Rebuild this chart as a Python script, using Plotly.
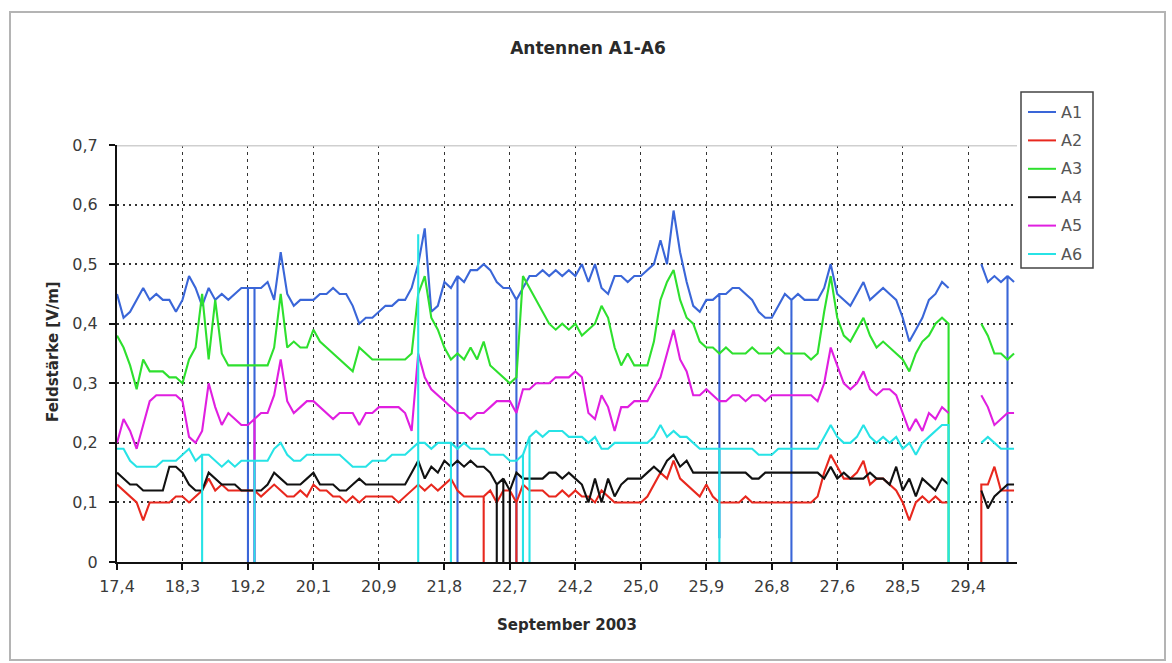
import plotly.graph_objects as go

# ---- data: field strength per antenna, one sample per 1/10 label step ----
tick_labels = ["17,4", "18,3", "19,2", "20,1", "20,9", "21,8", "22,7",
               "24,2", "25,0", "25,9", "26,8", "27,6", "28,5", "29,4"]
samples_per_label = 10

series_names = ["A1", "A2", "A3", "A4", "A5", "A6"]

A1 = [0.45, 0.41, 0.42, 0.44, 0.46, 0.44, 0.45, 0.44, 0.44, 0.42,
      0.44, 0.48, 0.46, 0.43, 0.46, 0.44, 0.45, 0.44, 0.45, 0.46,
      0.46, 0.46, 0.46, 0.47, 0.44, 0.52, 0.45, 0.43, 0.44, 0.44,
      0.44, 0.45, 0.45, 0.46, 0.45, 0.45, 0.43, 0.40, 0.41, 0.41,
      0.42, 0.43, 0.43, 0.44, 0.44, 0.46, 0.50, 0.56, 0.42, 0.43,
      0.47, 0.46, 0.48, 0.47, 0.49, 0.49, 0.50, 0.49, 0.47, 0.46,
      0.46, 0.44, 0.46, 0.48, 0.48, 0.49, 0.48, 0.49, 0.48, 0.49,
      0.48, 0.50, 0.47, 0.50, 0.46, 0.45, 0.48, 0.48, 0.47, 0.48,
      0.48, 0.49, 0.50, 0.54, 0.50, 0.59, 0.52, 0.47, 0.43, 0.42,
      0.44, 0.44, 0.45, 0.45, 0.46, 0.46, 0.45, 0.44, 0.42, 0.41,
      0.41, 0.43, 0.45, 0.44, 0.45, 0.44, 0.44, 0.44, 0.46, 0.50,
      0.45, 0.44, 0.43, 0.45, 0.47, 0.44, 0.45, 0.46, 0.45, 0.44,
      0.41, 0.37, 0.39, 0.41, 0.44, 0.45, 0.47, 0.46, None, None,
      None, None, 0.50, 0.47, 0.48, 0.47, 0.48, 0.47]

A2 = [0.13, 0.12, 0.11, 0.10, 0.07, 0.10, 0.10, 0.10, 0.10, 0.11,
      0.11, 0.10, 0.11, 0.12, 0.14, 0.12, 0.13, 0.12, 0.12, 0.12,
      0.12, 0.12, 0.11, 0.12, 0.13, 0.12, 0.11, 0.11, 0.12, 0.11,
      0.13, 0.12, 0.12, 0.11, 0.11, 0.10, 0.11, 0.10, 0.11, 0.11,
      0.11, 0.11, 0.11, 0.10, 0.11, 0.12, 0.13, 0.12, 0.13, 0.12,
      0.13, 0.14, 0.12, 0.11, 0.11, 0.11, 0.11, 0.12, 0.10, 0.12,
      0.12, 0.10, 0.13, 0.12, 0.12, 0.12, 0.11, 0.11, 0.12, 0.11,
      0.12, 0.11, 0.11, 0.10, 0.12, 0.11, 0.10, 0.10, 0.10, 0.10,
      0.10, 0.11, 0.13, 0.15, 0.14, 0.17, 0.14, 0.13, 0.12, 0.11,
      0.13, 0.11, 0.10, 0.10, 0.10, 0.10, 0.11, 0.10, 0.10, 0.10,
      0.10, 0.10, 0.10, 0.10, 0.10, 0.10, 0.10, 0.11, 0.15, 0.18,
      0.16, 0.14, 0.14, 0.15, 0.17, 0.13, 0.14, 0.14, 0.13, 0.12,
      0.10, 0.07, 0.10, 0.11, 0.10, 0.11, 0.10, 0.10, None, None,
      None, None, 0.13, 0.13, 0.16, 0.12, 0.12, 0.12]

A3 = [0.38, 0.36, 0.33, 0.29, 0.34, 0.32, 0.32, 0.32, 0.31, 0.31,
      0.30, 0.34, 0.36, 0.45, 0.34, 0.44, 0.35, 0.33, 0.33, 0.33,
      0.33, 0.33, 0.33, 0.33, 0.36, 0.45, 0.36, 0.37, 0.36, 0.36,
      0.39, 0.37, 0.36, 0.35, 0.34, 0.33, 0.32, 0.36, 0.35, 0.34,
      0.34, 0.34, 0.34, 0.34, 0.34, 0.35, 0.45, 0.48, 0.41, 0.39,
      0.36, 0.34, 0.35, 0.34, 0.36, 0.34, 0.37, 0.33, 0.32, 0.31,
      0.30, 0.31, 0.48, 0.46, 0.44, 0.42, 0.40, 0.39, 0.40, 0.39,
      0.40, 0.38, 0.39, 0.40, 0.43, 0.41, 0.36, 0.33, 0.35, 0.33,
      0.33, 0.33, 0.37, 0.44, 0.47, 0.49, 0.44, 0.41, 0.40, 0.37,
      0.36, 0.36, 0.35, 0.36, 0.35, 0.35, 0.35, 0.36, 0.35, 0.35,
      0.35, 0.36, 0.35, 0.35, 0.35, 0.35, 0.34, 0.35, 0.42, 0.48,
      0.41, 0.38, 0.37, 0.39, 0.41, 0.38, 0.36, 0.37, 0.36, 0.35,
      0.34, 0.32, 0.35, 0.37, 0.38, 0.40, 0.41, 0.40, None, None,
      None, None, 0.40, 0.38, 0.35, 0.35, 0.34, 0.35]

A4 = [0.15, 0.14, 0.13, 0.13, 0.12, 0.12, 0.12, 0.12, 0.16, 0.16,
      0.15, 0.13, 0.12, 0.12, 0.15, 0.14, 0.13, 0.13, 0.13, 0.12,
      0.12, 0.12, 0.12, 0.13, 0.15, 0.14, 0.13, 0.13, 0.13, 0.14,
      0.15, 0.13, 0.13, 0.13, 0.12, 0.12, 0.13, 0.14, 0.13, 0.13,
      0.13, 0.13, 0.13, 0.13, 0.13, 0.15, 0.17, 0.14, 0.16, 0.15,
      0.17, 0.16, 0.17, 0.16, 0.17, 0.16, 0.16, 0.15, 0.13, 0.14,
      0.12, 0.15, 0.14, 0.14, 0.14, 0.14, 0.15, 0.15, 0.14, 0.15,
      0.14, 0.13, 0.10, 0.14, 0.10, 0.14, 0.11, 0.13, 0.14, 0.14,
      0.14, 0.15, 0.16, 0.15, 0.17, 0.18, 0.16, 0.17, 0.15, 0.15,
      0.15, 0.15, 0.15, 0.15, 0.15, 0.15, 0.15, 0.14, 0.14, 0.15,
      0.15, 0.15, 0.15, 0.15, 0.15, 0.15, 0.15, 0.15, 0.14, 0.16,
      0.14, 0.15, 0.14, 0.14, 0.14, 0.15, 0.14, 0.14, 0.13, 0.16,
      0.12, 0.14, 0.11, 0.14, 0.13, 0.12, 0.14, 0.13, None, None,
      None, None, 0.12, 0.09, 0.11, 0.12, 0.13, 0.13]

A5 = [0.20, 0.24, 0.22, 0.19, 0.23, 0.27, 0.28, 0.28, 0.28, 0.28,
      0.27, 0.21, 0.20, 0.22, 0.30, 0.26, 0.23, 0.25, 0.24, 0.23,
      0.23, 0.24, 0.25, 0.25, 0.28, 0.34, 0.27, 0.25, 0.26, 0.27,
      0.27, 0.26, 0.25, 0.24, 0.25, 0.25, 0.25, 0.23, 0.25, 0.25,
      0.26, 0.26, 0.26, 0.26, 0.25, 0.22, 0.35, 0.31, 0.29, 0.28,
      0.27, 0.26, 0.25, 0.25, 0.24, 0.25, 0.25, 0.26, 0.27, 0.27,
      0.27, 0.25, 0.29, 0.29, 0.30, 0.30, 0.30, 0.31, 0.31, 0.31,
      0.32, 0.31, 0.25, 0.24, 0.28, 0.26, 0.22, 0.26, 0.26, 0.27,
      0.27, 0.27, 0.29, 0.31, 0.35, 0.39, 0.34, 0.32, 0.28, 0.28,
      0.29, 0.28, 0.27, 0.27, 0.28, 0.28, 0.27, 0.28, 0.28, 0.27,
      0.28, 0.28, 0.28, 0.28, 0.28, 0.28, 0.28, 0.27, 0.30, 0.36,
      0.33, 0.30, 0.29, 0.30, 0.32, 0.29, 0.28, 0.29, 0.29, 0.28,
      0.25, 0.22, 0.24, 0.22, 0.25, 0.24, 0.26, 0.25, None, None,
      None, None, 0.28, 0.26, 0.23, 0.24, 0.25, 0.25]

A6 = [0.19, 0.19, 0.17, 0.16, 0.16, 0.16, 0.16, 0.17, 0.17, 0.17,
      0.18, 0.19, 0.17, 0.18, 0.18, 0.17, 0.16, 0.17, 0.16, 0.17,
      0.17, 0.17, 0.17, 0.17, 0.19, 0.20, 0.18, 0.17, 0.17, 0.18,
      0.18, 0.18, 0.18, 0.18, 0.18, 0.17, 0.16, 0.16, 0.16, 0.17,
      0.17, 0.17, 0.18, 0.18, 0.18, 0.19, 0.20, 0.20, 0.19, 0.20,
      0.20, 0.20, 0.19, 0.20, 0.19, 0.19, 0.19, 0.18, 0.18, 0.18,
      0.17, 0.17, 0.18, 0.21, 0.22, 0.21, 0.22, 0.22, 0.22, 0.21,
      0.21, 0.21, 0.20, 0.21, 0.19, 0.19, 0.20, 0.20, 0.20, 0.20,
      0.20, 0.20, 0.21, 0.23, 0.21, 0.22, 0.21, 0.21, 0.20, 0.19,
      0.19, 0.19, 0.19, 0.19, 0.19, 0.19, 0.19, 0.19, 0.18, 0.18,
      0.18, 0.19, 0.19, 0.19, 0.19, 0.19, 0.19, 0.19, 0.21, 0.23,
      0.21, 0.20, 0.20, 0.21, 0.23, 0.21, 0.20, 0.21, 0.20, 0.21,
      0.19, 0.20, 0.18, 0.20, 0.21, 0.22, 0.23, 0.23, None, None,
      None, None, 0.20, 0.21, 0.20, 0.19, 0.19, 0.19]

# short measurement dropouts: sample index -> readings passed through
A1_glitches = {20: [0.0], 21: [0.0], 52: [0.0], 61: [0.0], 92: [0.04],
               103: [0.0], 136: [0.0]}
A2_glitches = {56: [0.0], 61: [0.0], 132: [0.0]}
A3_glitches = {127: [0.0]}
A4_glitches = {58: [0.0], 59: [0.0], 60: [0.0]}
A5_glitches = {21: [0.0]}
A6_glitches = {13: [0.0], 21: [0.0], 46: [0.55, 0.0], 51: [0.0], 62: [0.0],
               63: [0.0], 92: [0.0], 127: [0.0]}

series_values = [A1, A2, A3, A4, A5, A6]
series_glitches = [A1_glitches, A2_glitches, A3_glitches, A4_glitches,
                   A5_glitches, A6_glitches]
series_colors = ["#3a66d8", "#e8281e", "#2ee02e", "#111111", "#e01fe0", "#27e3e6"]

y_ticks = [0.0, 0.1, 0.2, 0.3, 0.4, 0.5, 0.6, 0.7]
y_tick_text = ["0", "0,1", "0,2", "0,3", "0,4", "0,5", "0,6", "0,7"]


def build_trace_xy(values, glitches):
    xs, ys = [], []
    for k, v in enumerate(values):
        if v is None:
            xs.append(k)
            ys.append(None)
            continue
        xs.append(k)
        ys.append(v)
        if k in glitches:
            for g in glitches[k]:
                xs.append(k)
                ys.append(g)
            xs.append(k)
            ys.append(v)
    return xs, ys


fig = go.Figure()
for name, vals, gl, col in zip(series_names, series_values, series_glitches, series_colors):
    xs, ys = build_trace_xy(vals, gl)
    fig.add_trace(go.Scatter(x=xs, y=ys, mode="lines", name=name,
                             line=dict(color=col, width=2.1),
                             connectgaps=False, showlegend=False))

# ---- page geometry (pixels) ----
W, H = 1172, 663
PL, PR, PT, PB = 117, 1017, 145, 562


def px_x(px):
    return (px - PL) / (PR - PL)


def px_y(py):
    return (PB - py) / (PB - PT)


n_samples = len(A1)
x_max = (n_samples - 1) + 0.45
tick_vals = [i * samples_per_label for i in range(len(tick_labels))]

font_family = "DejaVu Sans, Verdana, sans-serif"
text_col = "#3a3a3a"

fig.update_layout(
    width=W, height=H,
    margin=dict(l=PL, r=W - PR, t=PT, b=H - PB),
    paper_bgcolor="white", plot_bgcolor="white",
    font=dict(family=font_family, color=text_col, size=16),
    title=dict(text="<b>Antennen A1-A6</b>", x=588 / W, xref="container",
               y=1 - 48 / H, yref="container", xanchor="center", yanchor="middle",
               font=dict(size=17, color="#2a2a2a")),
    showlegend=False,
)

fig.update_xaxes(
    range=[0, x_max], tickvals=tick_vals, ticktext=tick_labels,
    showline=True, linecolor="#111111", linewidth=2,
    ticks="outside", ticklen=6, tickwidth=1.5, tickcolor="#111111",
    ticklabelstandoff=3,
    showgrid=True, gridcolor="#333333", gridwidth=1.2, griddash="3px,4px",
    zeroline=False, tickfont=dict(size=16, color=text_col),
)
fig.update_yaxes(
    range=[0, 0.7], tickvals=y_ticks, ticktext=y_tick_text,
    showline=True, linecolor="#111111", linewidth=2,
    ticks="outside", ticklen=6, tickwidth=1.5, tickcolor="#111111",
    ticklabelstandoff=8,
    showgrid=True, gridcolor="#333333", gridwidth=1.6, griddash="2px,4px",
    zeroline=False, tickfont=dict(size=16, color=text_col),
)

shapes = []
# light top edge of the plot area at 0.7
shapes.append(dict(type="line", xref="paper", yref="y", x0=0, x1=1, y0=0.7, y1=0.7,
                   line=dict(color="#cfcfcf", width=3), layer="above"))
# outer chart frame
shapes.append(dict(type="rect", xref="paper", yref="paper",
                   x0=px_x(10), x1=px_x(1165), y0=px_y(660), y1=px_y(12),
                   line=dict(color="#b4b4b4", width=2), layer="below"))
# legend box
shapes.append(dict(type="rect", xref="paper", yref="paper",
                   x0=px_x(1021), x1=px_x(1093), y0=px_y(268), y1=px_y(92),
                   line=dict(color="#444444", width=1.5), fillcolor="white"))

annotations = []
legend_row_y = [112 + i * 28.4 for i in range(len(series_names))]
for name, col, ry in zip(series_names, series_colors, legend_row_y):
    shapes.append(dict(type="line", xref="paper", yref="paper",
                       x0=px_x(1028), x1=px_x(1056), y0=px_y(ry), y1=px_y(ry),
                       line=dict(color=col, width=2)))
    annotations.append(dict(text=name, xref="paper", yref="paper",
                            x=px_x(1059), y=px_y(ry), xanchor="left", yanchor="middle",
                            showarrow=False, font=dict(size=16, color="#555555")))

annotations.append(dict(text="<b>Feldstärke [V/m]</b>", xref="paper", yref="paper",
                        x=px_x(53), y=px_y(352), textangle=-90, showarrow=False,
                        xanchor="center", yanchor="middle",
                        font=dict(size=15, color="#2a2a2a")))
annotations.append(dict(text="<b>September 2003</b>", xref="paper", yref="paper",
                        x=px_x(567), y=px_y(625), showarrow=False,
                        xanchor="center", yanchor="middle",
                        font=dict(size=15, color="#2a2a2a")))

fig.update_layout(shapes=shapes, annotations=annotations)

fig.write_html("out.html")
